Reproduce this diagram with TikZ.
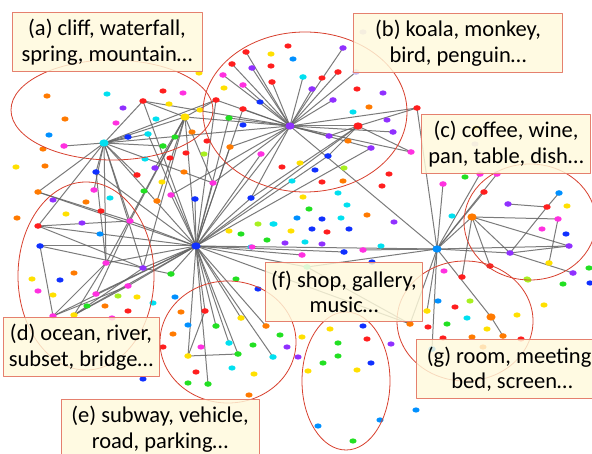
\documentclass[tikz,border=0pt]{standalone}
\usepackage{fontspec}
\setmainfont{Carlito}
\definecolor{cR}{HTML}{FF1E1E}
\definecolor{cO}{HTML}{FF7A00}
\definecolor{cY}{HTML}{FFE000}
\definecolor{cL}{HTML}{A8F020}
\definecolor{cG}{HTML}{22E022}
\definecolor{cT}{HTML}{40F0B0}
\definecolor{cC}{HTML}{00E0F0}
\definecolor{cA}{HTML}{0090FF}
\definecolor{cB}{HTML}{1030FF}
\definecolor{cV}{HTML}{9030FF}
\definecolor{cM}{HTML}{FF30E0}
\definecolor{cP}{HTML}{C8B8F0}
\definecolor{ringred}{HTML}{D8402E}
\definecolor{tagline}{HTML}{E5806E}
\definecolor{tagfill}{HTML}{FFFADC}
\definecolor{linkgray}{HTML}{646464}

% hubs and the dots that carry links: name/x/y/colour
\def\hubs{hD/196/246/cB, hB/290/126/cV, hC/437/249/cA, hA/104/143/cC, hG/185/117/cY,
  hF/358/126/cR, hE/472/217/cO, hK/491/317/cO}
\def\ends{n1/38/226/cR, n2/40/246/cB, n3/130/221/cM, n4/106/263/cM, n5/53/316/cM,
  n6/74/315/cY, n7/171/274/cG, n8/205/311/cR, n9/216/326/cG, n10/241/318/cY,
  n11/273/357/cC, n12/238/354/cG, n13/188/356/cY, n14/208/384/cG, n15/229/343/cC,
  n16/148/134/cC, n17/143/101/cR, n18/216/100/cR, n19/251/198/cB, n20/302/255/cM,
  n21/266/326/cO, n22/410/324/cO, n23/243/109/cR, n24/213/183/cM, n25/96/172/cB,
  n26/128/286/cM, n27/38/192/cO, n28/163/146/cG, n30/246/52/cR, n31/232/64/cR,
  n32/252/68/cV, n33/223/75/cM, n34/243/85/cM, n35/272/82/cR, n36/343/48/cV,
  n37/303/77/cC, n38/312/89/cV, n39/338/72/cR, n40/356/72/cP, n41/333/100/cV,
  n42/371/148/cV, n43/329/136/cV, n44/417/108/cR, n45/411/152/cM, n46/393/132/cV,
  n47/229/118/cG, n50/64/146/cM, n51/128/137/cB, n52/94/190/cM, n53/137/175/cR,
  n54/155/168/cV, n60/443/184/cM, n61/480/174/cM, n62/497/174/cM, n63/484/192/cR,
  n64/569/246/cV, n65/510/253/cV, n66/432/349/cA, n68/558/219/cM, n69/462/277/cR,
  n70/508/204/cV, n71/547/207/cR, n72/559/193/cA, n73/549/263/cY, n74/573/273/cV,
  n75/490/266/cR, n76/427/311/cY, n77/503/336/cO, n78/344/252/cB, n79/363/250/cM,
  n81/171/195/cM, n82/195/199/cB, n83/157/201/cO, n84/230/147/cO, n85/261/154/cM,
  n86/143/268/cV, n87/96/294/cM, n88/328/156/cB, nF/307/267/cT}
% dots without links: x/y/colour
\def\loose{47/96/cO, 65/119/cO, 49/135/cA, 43/149/cO, 16/167/cY, 45/166/cO, 17/218/cO,
  53/200/cV, 86/202/cO, 101/211/cR, 110/198/cC, 66/214/cY, 82/223/cV, 107/94/cC,
  163/91/cR, 183/93/cM, 123/108/cV, 169/104/cY, 200/110/cY, 199/73/cY, 116/123/cM,
  156/119/cC, 175/137/cG, 192/132/cO, 207/141/cR, 186/153/cR, 204/154/cL, 170/158/cR,
  145/159/cC, 162/182/cY, 184/172/cO, 144/191/cG, 273/224/cC,
  282/167/cR, 288/46/cR, 271/54/cY, 293/59/cA, 271/66/cR, 224/88/cY, 243/125/cB,
  260/102/cB, 322/78/cR, 357/89/cR, 383/93/cV, 369/107/cO, 353/112/cC, 387/120/cV,
  348/141/cO, 315/170/cB, 300/163/cY, 344/168/cL, 343/181/cO, 322/182/cR,
  389/174/cR, 382/186/cR, 338/193/cC, 303/197/cY, 309/209/cG, 347/205/cC, 297/218/cA,
  322/219/cB, 341/218/cC, 367/215/cO, 394/222/cV, 363/32/cP, 475/144/cP, 476/128/cY,
  465/177/cG, 292/181/cC, 349/229/cB, 312/229/cB, 327/232/cR, 291/231/cY, 258/224/cL,
  241/234/cG, 267/240/cG, 285/243/cV, 305/242/cC, 322/244/cV, 251/247/cC, 236/279/cG,
  381/246/cC, 372/262/cB, 590/283/cB, 589/268/cG, 563/284/cG, 528/280/cL, 566/234/cB,
  542/229/cM, 567/206/cY, 444/271/cM, 452/216/cC, 100/234/cA, 74/273/cO, 32/279/cY,
  60/280/cB, 38/291/cM, 53/295/cY, 87/306/cG, 105/306/cO,
  118/296/cL, 137/297/cY, 128/311/cR, 153/303/cC, 175/297/cA, 112/318/cM, 143/379/cB,
  163/347/cR, 181/312/cO, 188/325/cA, 173/334/cO, 201/347/cM, 253/345/cG, 232/368/cC,
  196/372/cR, 254/374/cY, 188/383/cG, 249/395/cO, 280/335/cG, 287/347/cV, 258/289/cB,
  330/329/cY, 338/343/cG, 367/339/cR, 363/326/cB, 391/344/cV, 338/356/cG, 323/363/cG,
  371/363/cB, 357/370/cY, 308/371/cY, 302/337/cY, 298/357/cV, 318/426/cA, 380/420/cA,
  353/441/cG, 416/410/cA, 438/301/cA, 470/301/cL, 455/307/cR, 428/327/cR, 447/324/cG,
  467/318/cC, 487/329/cY, 472/337/cO, 443/338/cR, 517/315/cY, 521/339/cR, 544/305/cY,
  483/347/cO, 527/279/cL, 274/224/cC, 252/247/cM, 229/231/cY}

\begin{document}
\begin{tikzpicture}[x=1pt, y=-1pt, line join=round, line cap=round,
    link/.style={draw=linkgray, line width=1pt, opacity=0.85},
    ring/.style={draw=ringred, line width=0.8pt},
    tag/.style={draw=tagline, line width=0.9pt, fill=tagfill, fill opacity=0.82,
      text opacity=1, align=center, inner sep=0pt, minimum height=59pt,
      font=\fontsize{22.5}{25.5}\selectfont}]
  \useasboundingbox (0,0) rectangle (592,454);
  \clip (0,0) rectangle (592,454);
  \fill[white] (0,0) rectangle (592,454);

  \foreach \n/\x/\y/\c in \hubs {\coordinate (\n) at (\x,\y);}
  \foreach \n/\x/\y/\c in \ends {\coordinate (\n) at (\x,\y);}

  % links
  \foreach \b in {n1,n2,hA,n3,n4,n5,n6,n7,n8,n9,n10,n11,n12,n13,n14,n15,n16,n17,hG,n18,
      n19,hB,hF,hC,n20,n21,n22,n23,n24,n26,nF,n78,n47,n81,n82,n27,n25,n84,n85,n86,n87,n88,n42}
    \draw[link] (hD) -- (\b);
  \foreach \b in {n30,n31,n32,n33,n34,n35,n18,n36,n37,n38,n39,n40,n41,hF,n42,n43,n44,
      n45,hA,hG,n17,n19,n23,n46,n47,n24,n84,n81}
    \draw[link] (hB) -- (\b);
  \foreach \b in {n50,n17,hG,n16,n51,n52,n25,n1,n3,n4,n28,n53,n24,n27,n86,n18}
    \draw[link] (hA) -- (\b);
  \foreach \b in {n17,n18,n3,n4,n54,n24,n83,n86}
    \draw[link] (hG) -- (\b);
  \foreach \b in {n44,n43,n45,n19,n88}
    \draw[link] (hF) -- (\b);
  \foreach \b in {n44,n60,n61,n62,hE,n63,n64,n65,n66,n22,hK,nF,n76,n79,hB}
    \draw[link] (hC) -- (\b);
  \foreach \b in {n65,n75,n68,n69,n64}
    \draw[link] (hE) -- (\b);
  \foreach \a/\b in {n70/n71,n72/n71,n71/n65,n68/n73,n65/n74,n64/n65,hK/n77,n1/n3,
      n2/n7,n27/n3,n5/n4,n6/n4,n25/n4,n5/n26,n13/n12,n13/n8,n22/nF,n5/n2,n6/n26,
      n1/n86,n87/n3,n6/n86}
    \draw[link] (\a) -- (\b);

  % dots
  \foreach \x/\y/\c in \loose
    \fill[\c] (\x,\y) ellipse [x radius=3.6, y radius=2.6];
  \foreach \n/\x/\y/\c in \ends
    \fill[\c] (\n) ellipse [x radius=3.7, y radius=2.8];
  \foreach \n/\x/\y/\c in \hubs
    \fill[\c] (\n) ellipse [x radius=4.6, y radius=3.6];

  % groups
  \draw[ring] (112,110) ellipse [x radius=101, y radius=50];
  \draw[ring] (305,112) ellipse [x radius=102, y radius=80];
  \draw[ring] (530,222) ellipse [x radius=66, y radius=58];
  \draw[ring] (86,276) ellipse [x radius=68, y radius=94];
  \draw[ring] (228,342) ellipse [x radius=68, y radius=61];
  \draw[ring] (346,381) ellipse [x radius=44, y radius=69];
  \draw[ring] (465,321) ellipse [x radius=68, y radius=60];

  \node[tag, minimum width=190pt] (tagA) at (107,42) {(a) cliff, waterfall,\\spring, mountain…};
  \node[tag, minimum width=209pt] (tagB) at (458,43) {(b) koala, monkey,\\bird, penguin…};
  \node[tag, minimum width=169pt] (tagC) at (506,144) {(c) coffee, wine,\\pan, table, dish…};
  \node[tag, minimum width=156pt] (tagD) at (81,347) {(d) ocean, river,\\subset, bridge…};
  \node[tag, minimum width=198pt] (tagE) at (160,429) {(e) subway, vehicle,\\road, parking…};
  \node[tag, minimum width=157pt] (tagF) at (344,292) {(f) shop, gallery,\\music…};
  \node[tag, minimum width=191pt] (tagG) at (512,369) {(g) room, meeting,\\bed, screen…};
\end{tikzpicture}
\end{document}
